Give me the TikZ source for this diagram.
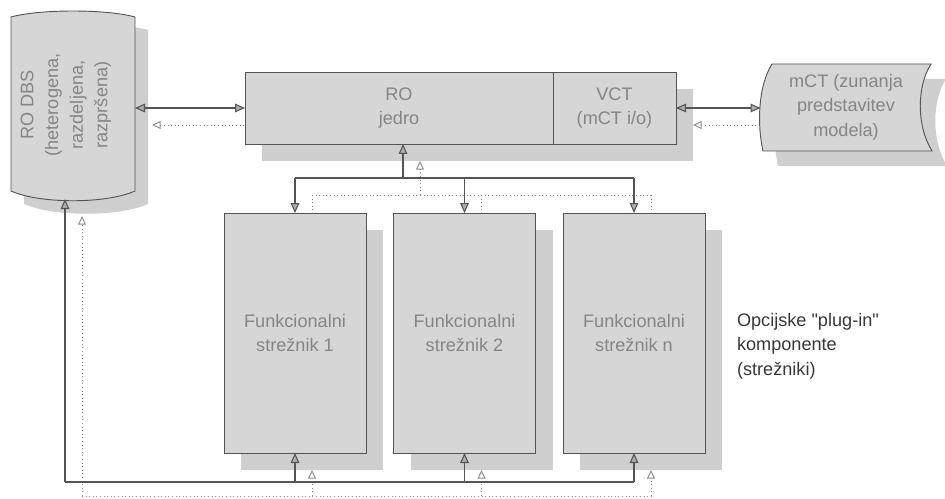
\documentclass[tikz,border=0pt]{standalone}
\usepackage{fontspec}
\setmainfont{Liberation Sans}[Ligatures=TeXOff]
\usetikzlibrary{arrows.meta,calc}
\definecolor{boxfill}{gray}{0.84}
\definecolor{shadfill}{gray}{0.81}
\definecolor{edge}{gray}{0.33}
\definecolor{txt}{gray}{0.52}
\definecolor{dotc}{gray}{0.55}
\definecolor{tipfill}{gray}{0.68}
\begin{document}
\begin{tikzpicture}[x=0.75pt,y=-0.75pt,
  every node/.style={inner sep=0pt,outer sep=0pt},
  lbl/.style={text=txt,align=center,font=\fontsize{13.6}{18.5}\selectfont},
  box/.style={lbl,draw=edge,fill=boxfill,line width=0.7pt},
  ghost/.style={fill=shadfill,draw=none},
  anchorbox/.style={draw=none,fill=none},
  con/.style={draw=edge,line width=0.8pt},
  conA/.style={con,-{Triangle[length=7.5pt,width=6.5pt,fill=tipfill]}},
  conAA/.style={con,{Triangle[length=7.5pt,width=6.5pt,fill=tipfill]}-{Triangle[length=7.5pt,width=6.5pt,fill=tipfill]}},
  dots/.style={draw=dotc,line width=0.7pt,dotted},
  dotsA/.style={dots,-{Triangle[open,length=6.5pt,width=6pt]}},
  dotsAA/.style={dots,{Triangle[open,length=6.5pt,width=6pt]}-{Triangle[open,length=6.5pt,width=6pt]}},
  sh/.style={shift={(17,17)}},
  shb/.style={shift={(17,14)}}
]
\useasboundingbox (0,0) rectangle (945,499);

% ---- anchor nodes (positions) ----
\node[anchorbox,minimum width=93pt,minimum height=138pt] (db) at (73,105) {};
\node[anchorbox,minimum width=128.25pt,minimum height=65.25pt] (mct) at (846,107) {};
\node[anchorbox,minimum width=231pt,minimum height=54pt] (core) at (399,108) {};
\node[anchorbox,minimum width=92.25pt,minimum height=54pt] (vct) at (614.5,108) {};
\node[anchorbox,minimum width=106.5pt,minimum height=180pt] (s1) at (295,333) {};
\node[anchorbox,minimum width=106.5pt,minimum height=180pt] (s2) at (464.5,333) {};
\node[anchorbox,minimum width=106.5pt,minimum height=180pt] (sn) at (634,333) {};

\coordinate (J) at (403,178);
\coordinate (Jc) at (J |- core.south);
\coordinate (b1) at (s1.north |- J);
\coordinate (b2) at (s2.north |- J);
\coordinate (bn) at (sn.north |- J);
\coordinate (K) at (65,482);
\coordinate (Kd) at (65,199);
\coordinate (Kds) at (82,216);
\coordinate (c1) at (s1.south |- K);
\coordinate (c2) at (s2.south |- K);
\coordinate (cn) at (sn.south |- K);
\coordinate (dbL) at (core.west -| db.east);
\coordinate (mcL) at (vct.east -| mct.west);

% ---- shadows of connectors (dotted) ----
\draw[dotsAA] ([sh]dbL) -- ([sh]core.west);
\draw[dotsAA] ([sh]vct.east) -- ([sh]mcL);
\draw[dotsA] ([sh]J) -- ([sh]Jc);
\draw[dots] ([sh]b1) -- ([sh]bn);
\draw[dotsA] ([sh]b1) -- ([sh]s1.north);
\draw[dotsA] ([sh]b2) -- ([sh]s2.north);
\draw[dotsA] ([sh]bn) -- ([sh]sn.north);
\draw[dots] ([shb]K) -- ([shb]cn);
\draw[dotsA] ([shb]K) -- (Kds);
\draw[dotsA] ([shb]c1) -- ([sh]s1.south);
\draw[dotsA] ([shb]c2) -- ([sh]s2.south);
\draw[dotsA] ([shb]cn) -- ([sh]sn.south);

% ---- shadows of shapes ----
\begin{scope}[shift={(13,13)}]
\fill[shadfill] (11,17) .. controls (40,9) and (106,9) .. (135,17) -- (135,191) .. controls (106,204) and (40,204) .. (11,191) -- cycle;
\end{scope}
\begin{scope}[shift={(15,15)}]
\fill[shadfill] (772,64) -- (931,64) .. controls (917,86) and (916,125) .. (932,151) -- (763,151) .. controls (757,125) and (758,86) .. (772,64) -- cycle;
\end{scope}
\fill[shadfill] ([sh]core.north west) rectangle ([sh]vct.south east);
\fill[shadfill] ([sh]s1.north west) rectangle ([sh]s1.south east);
\fill[shadfill] ([sh]s2.north west) rectangle ([sh]s2.south east);
\fill[shadfill] ([sh]sn.north west) rectangle ([sh]sn.south east);

% ---- shapes ----
\path[fill=boxfill,draw=edge,line width=0.7pt] (11,17) .. controls (40,9) and (106,9) .. (135,17) -- (135,191) .. controls (106,204) and (40,204) .. (11,191) -- cycle;
\node[lbl,rotate=90] at (66,105) {RO DBS\\(heterogena,\\razdeljena,\\razpršena)};

\path[fill=boxfill,draw=edge,line width=0.7pt] (772,64) -- (931,64) .. controls (917,86) and (916,125) .. (932,151) -- (763,151) .. controls (757,125) and (758,86) .. (772,64) -- cycle;
\node[lbl] at (mct.center) {mCT (zunanja\\predstavitev\\modela)};

\node[box,minimum width=231pt,minimum height=54pt] at (core.center) {RO\\jedro};
\node[box,minimum width=92.25pt,minimum height=54pt] at (vct.center) {VCT\\(mCT i/o)};

\node[box,minimum width=106.5pt,minimum height=180pt] at (s1.center) {Funkcionalni\\strežnik 1};
\node[box,minimum width=106.5pt,minimum height=180pt] at (s2.center) {Funkcionalni\\strežnik 2};
\node[box,minimum width=106.5pt,minimum height=180pt] at (sn.center) {Funkcionalni\\strežnik n};

\node[anchor=west,align=left,text=black!78,font=\fontsize{13.6}{18.5}\selectfont] (opt) at (737,346) {Opcijske "plug-in"\\komponente\\(strežniki)};

% ---- connectors ----
\draw[conAA] (dbL) -- (core.west);
\draw[conAA] (vct.east) -- (mcL);
\draw[conA] (J) -- (Jc);
\draw[con] (b1) -- (bn);
\draw[conA] (b1) -- (s1.north);
\draw[conA] (b2) -- (s2.north);
\draw[conA] (bn) -- (sn.north);
\draw[con] (K) -- (cn);
\draw[conA] (K) -- (Kd);
\draw[conA] (c1) -- (s1.south);
\draw[conA] (c2) -- (s2.south);
\draw[conA] (cn) -- (sn.south);
\end{tikzpicture}
\end{document}
